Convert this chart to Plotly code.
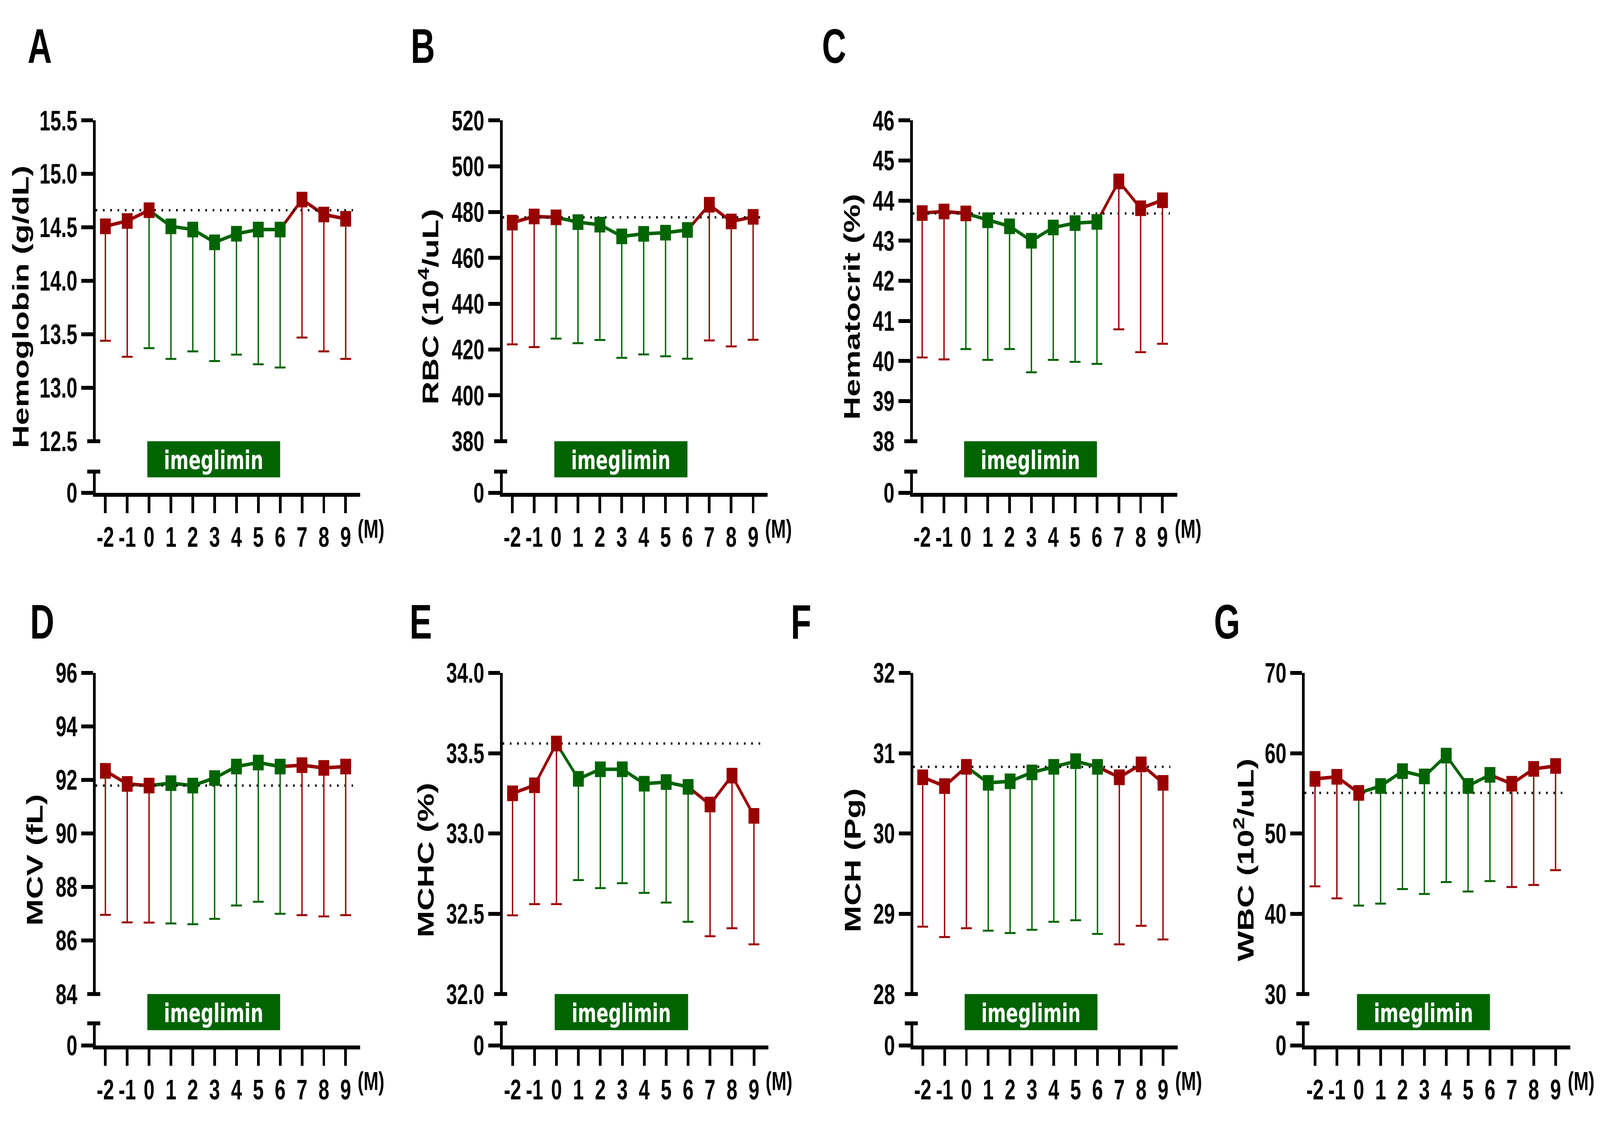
import plotly.graph_objects as go

W, H = 5906, 2878

# ---------------- data ----------------
months = [-2, -1, 0, 1, 2, 3, 4, 5, 6, 7, 8, 9]
month_labels = ["-2", "-1", "0", "1", "2", "3", "4", "5", "6", "7", "8", "9"]
treat_start, treat_end = 0, 6

hb_mean = [14.51, 14.56, 14.66, 14.51, 14.48, 14.36, 14.44, 14.48, 14.48, 14.76, 14.62, 14.58]
hb_sd = [1.07, 1.27, 1.29, 1.24, 1.14, 1.11, 1.13, 1.26, 1.29, 1.29, 1.28, 1.31]
hb_ticks = [12.5, 13.0, 13.5, 14.0, 14.5, 15.0, 15.5]
hb_ticklabels = ["12.5", "13.0", "13.5", "14.0", "14.5", "15.0", "15.5"]

rbc_mean = [475.4, 478.1, 477.7, 475.6, 474.5, 469.4, 470.5, 471.0, 472.2, 483.2, 475.9, 477.9]
rbc_sd = [53.1, 57.0, 52.9, 52.8, 50.3, 53.0, 52.6, 53.9, 56.2, 59.2, 54.5, 53.6]
rbc_ticks = [380, 400, 420, 440, 460, 480, 500, 520]
rbc_ticklabels = ["380", "400", "420", "440", "460", "480", "500", "520"]

hct_mean = [43.69, 43.73, 43.68, 43.51, 43.36, 43.00, 43.33, 43.44, 43.47, 44.48, 43.81, 44.01]
hct_sd = [3.60, 3.69, 3.38, 3.48, 3.06, 3.28, 3.30, 3.46, 3.54, 3.69, 3.59, 3.58]
hct_ticks = [38, 39, 40, 41, 42, 43, 44, 45, 46]
hct_ticklabels = ["38", "39", "40", "41", "42", "43", "44", "45", "46"]

mcv_mean = [92.34, 91.85, 91.79, 91.88, 91.79, 92.07, 92.50, 92.65, 92.50, 92.55, 92.45, 92.50]
mcv_sd = [5.38, 5.17, 5.12, 5.24, 5.18, 5.26, 5.19, 5.20, 5.50, 5.60, 5.55, 5.55]
mcv_ticks = [84, 86, 88, 90, 92, 94, 96]
mcv_ticklabels = ["84", "86", "88", "90", "92", "94", "96"]

mchc_mean = [33.25, 33.30, 33.56, 33.34, 33.40, 33.40, 33.31, 33.32, 33.29, 33.18, 33.36, 33.11]
mchc_sd = [0.76, 0.74, 1.00, 0.63, 0.74, 0.71, 0.68, 0.75, 0.84, 0.82, 0.95, 0.80]
mchc_ticks = [32.0, 32.5, 33.0, 33.5, 34.0]
mchc_ticklabels = ["32.0", "32.5", "33.0", "33.5", "34.0"]

mch_mean = [30.70, 30.59, 30.83, 30.63, 30.65, 30.76, 30.83, 30.90, 30.83, 30.70, 30.86, 30.63]
mch_sd = [1.86, 1.88, 2.01, 1.84, 1.89, 1.96, 1.93, 1.98, 2.08, 2.08, 2.01, 1.95]
mch_ticks = [28, 29, 30, 31, 32]
mch_ticklabels = ["28", "29", "30", "31", "32"]

wbc_mean = [56.80, 57.06, 55.05, 55.91, 57.76, 57.11, 59.70, 55.93, 57.30, 56.19, 58.04, 58.41]
wbc_sd = [13.38, 15.14, 14.03, 14.65, 14.69, 14.64, 15.75, 13.16, 13.23, 12.86, 14.45, 12.97]
wbc_ticks = [30, 40, 50, 60, 70]
wbc_ticklabels = ["30", "40", "50", "60", "70"]

panels = [
    ("A", "Hemoglobin (g/dL)", hb_mean, hb_sd, hb_ticks, hb_ticklabels),
    ("B", "RBC (10<sup>4</sup>/uL)", rbc_mean, rbc_sd, rbc_ticks, rbc_ticklabels),
    ("C", "Hematocrit (%)", hct_mean, hct_sd, hct_ticks, hct_ticklabels),
    ("D", "MCV (fL)", mcv_mean, mcv_sd, mcv_ticks, mcv_ticklabels),
    ("E", "MCHC (%)", mchc_mean, mchc_sd, mchc_ticks, mchc_ticklabels),
    ("F", "MCH (Pg)", mch_mean, mch_sd, mch_ticks, mch_ticklabels),
    ("G", "WBC (10<sup>2</sup>/uL)", wbc_mean, wbc_sd, wbc_ticks, wbc_ticklabels),
]

# ---------------- styles / layout geometry (pixels) ----------------
RED = "#990000"
GREEN = "#006400"
BLACK = "#000000"
FONT = "Liberation Sans, Arial, sans-serif"
BAR_FONT = "DejaVu Sans, sans-serif"
LW = 10
TICKLEN = 43
XTICKLEN = 42
TICK_SIZE = 72
TITLE_SIZE = 82
LETTER_SIZE = 124
M_SIZE = 66
BAR_H = 95

ROWS = {
    "top": dict(up_top=276, up_bot=1121, lo_top=1201, axis=1262, title_y=767, letter_y=80, m_y=1352),
    "bot": dict(up_top=1731, up_bot=2577, lo_top=2654, axis=2717, title_y=2224, letter_y=1596, m_y=2806),
}
# key: row, y-axis x, px of month -2, px of month 9, axis right end, title centre x, letter centre x, colour of month-0 error bar
GEOM = {
    "A": ("top", 348, 389, 1276, 1330, 77, 147, GREEN),
    "B": ("top", 1850, 1891, 2780, 2834, 1583, 1561, GREEN),
    "C": ("top", 3364, 3404, 4291, 4346, 3145, 3079, GREEN),
    "D": ("bot", 348, 389, 1276, 1330, 128, 156, RED),
    "E": ("bot", 1850, 1892, 2783, 2836, 1572, 1553, RED),
    "F": ("bot", 3366, 3406, 4293, 4348, 3148, 2957, RED),
    "G": ("bot", 4811, 4854, 5742, 5797, 4592, 4529, GREEN),
}


def fx(x):
    return x / W


def fy(y):
    return 1 - y / H


def yname(n):
    return "y" if n == 1 else f"y{n}"


def xname(n):
    return "x" if n == 1 else f"x{n}"


def lkey(letter, n):
    return f"{letter}axis" if n == 1 else f"{letter}axis{n}"


tickfont = dict(family=FONT, size=TICK_SIZE, color=BLACK, weight="bold")

fig = go.Figure()
layout = dict(
    width=W, height=H, autosize=False,
    margin=dict(l=0, r=0, t=0, b=0, pad=0),
    paper_bgcolor="white", plot_bgcolor="rgba(0,0,0,0)",
    showlegend=False,
)
shapes = []
annotations = []

for i, (key, title, mean, sd, ticks, ticklabels) in enumerate(panels):
    row_key, ax_left, m2, m9, ax_right, title_cx, letter_cx, zero_col = GEOM[key]
    row = ROWS[row_key]
    xn = i + 1
    yu, yb, yl = 3 * i + 1, 3 * i + 2, 3 * i + 3
    ppu = (m9 - m2) / (months[-1] - months[0])
    dom_l = ax_left + LW / 2
    dom_r = ax_right
    xr = [months[0] + (dom_l - m2) / ppu, months[0] + (dom_r - m2) / ppu]
    xa = xname(xn)

    layout[lkey("x", xn)] = dict(
        domain=[fx(dom_l), fx(dom_r)], range=xr, anchor=yname(yl),
        tickmode="array", tickvals=months, ticktext=month_labels,
        ticks="outside", ticklen=XTICKLEN, tickwidth=LW, tickcolor=BLACK,
        showline=True, linewidth=LW, linecolor=BLACK,
        showgrid=False, zeroline=False, tickfont=tickfont, fixedrange=True,
    )
    yr = [ticks[0], ticks[-1]]
    layout[lkey("y", yu)] = dict(
        domain=[fy(row["up_bot"]), fy(row["up_top"])], range=yr, anchor=xa,
        tickmode="array", tickvals=ticks[1:], ticktext=ticklabels[1:],
        ticks="outside", ticklen=TICKLEN, tickwidth=LW, tickcolor=BLACK,
        showline=True, linewidth=LW, linecolor=BLACK,
        showgrid=False, zeroline=False, tickfont=tickfont, fixedrange=True,
    )
    layout[lkey("y", yb)] = dict(
        overlaying=yname(yu), range=yr, anchor=xa,
        tickmode="array", tickvals=ticks[:1], ticktext=ticklabels[:1],
        ticks="", ticklabelstandoff=TICKLEN,
        showline=True, linewidth=LW, linecolor=BLACK,
        showgrid=False, zeroline=False, tickfont=tickfont, fixedrange=True,
    )
    layout[lkey("y", yl)] = dict(
        domain=[fy(row["axis"] - LW / 2), fy(row["lo_top"])], range=[0, 1], anchor=xa,
        tickmode="array", tickvals=[0], ticktext=["0"],
        ticks="outside", ticklen=TICKLEN, tickwidth=LW, tickcolor=BLACK,
        showline=True, linewidth=LW, linecolor=BLACK,
        showgrid=False, zeroline=False, tickfont=tickfont, fixedrange=True,
    )

    ya = yname(yu)

    # invisible anchor traces so that every axis gets its own subplot and is drawn
    for yy, val in ((yname(yb), ticks[0]), (yname(yl), 0)):
        fig.add_trace(go.Scatter(x=[months[0]], y=[val], mode="markers",
                                 marker=dict(size=1, opacity=0), xaxis=xa, yaxis=yy,
                                 hoverinfo="skip"))

    # connecting line segments
    pre = [k for k, m in enumerate(months) if m <= treat_start]
    trt = [k for k, m in enumerate(months) if treat_start <= m <= treat_end]
    post = [k for k, m in enumerate(months) if m >= treat_end]
    for idx, col in ((pre, RED), (trt, GREEN), (post, RED)):
        fig.add_trace(go.Scatter(
            x=[months[k] for k in idx], y=[mean[k] for k in idx], mode="lines",
            line=dict(color=col, width=9), xaxis=xa, yaxis=ya,
            hoverinfo="skip", cliponaxis=False,
        ))

    # baseline dotted reference line (value at month 0)
    base = mean[months.index(treat_start)]
    x_dot_end = months[-1] + 27 / ppu
    fig.add_trace(go.Scatter(
        x=[xr[0], x_dot_end], y=[base, base], mode="lines",
        line=dict(color=BLACK, width=6, dash="6px,21px"),
        xaxis=xa, yaxis=ya, hoverinfo="skip", cliponaxis=False,
    ))

    # error bars (mean - SD)
    def err_color(m):
        if treat_start < m <= treat_end:
            return GREEN
        if m == treat_start:
            return zero_col
        return RED

    for col in (RED, GREEN):
        idx = [k for k, m in enumerate(months) if err_color(m) == col]
        if not idx:
            continue
        fig.add_trace(go.Scatter(
            x=[months[k] for k in idx], y=[mean[k] for k in idx], mode="markers",
            marker=dict(size=2, opacity=0),
            error_y=dict(type="data", symmetric=False,
                         array=[0] * len(idx), arrayminus=[sd[k] for k in idx],
                         color=col, thickness=5, width=20),
            xaxis=xa, yaxis=ya, hoverinfo="skip", cliponaxis=False,
        ))

    # markers
    mcols = [GREEN if treat_start < m <= treat_end else RED for m in months]
    fig.add_trace(go.Scatter(
        x=months, y=mean, mode="markers",
        marker=dict(symbol="square", size=40, color=mcols, line=dict(width=0)),
        xaxis=xa, yaxis=ya, hoverinfo="skip", cliponaxis=False,
    ))

    # axis-break caps
    for yy in (row["up_bot"], row["lo_top"]):
        shapes.append(dict(type="line", xref="paper", yref="paper",
                           x0=fx(ax_left - 26), x1=fx(ax_left + 22), y0=fy(yy), y1=fy(yy),
                           line=dict(color=BLACK, width=LW)))

    # treatment bar
    shapes.append(dict(type="rect", xref=xa, yref="paper",
                       x0=treat_start - 0.08, x1=treat_end,
                       y0=fy(row["up_bot"] + BAR_H), y1=fy(row["up_bot"]),
                       fillcolor=GREEN, line=dict(width=0), layer="above"))
    annotations.append(dict(xref=xa, yref="paper",
                            x=(treat_start + treat_end) / 2 - 0.04,
                            y=fy(row["up_bot"] + BAR_H / 2 + 3),
                            text="imeglimin", showarrow=False, xanchor="center", yanchor="middle",
                            font=dict(family=BAR_FONT, size=66, color="white", weight="bold")))

    # y-axis title
    annotations.append(dict(xref="paper", yref="paper", x=fx(title_cx), y=fy(row["title_y"]),
                            text=title, textangle=-90, showarrow=False,
                            xanchor="center", yanchor="middle",
                            font=dict(family=FONT, size=TITLE_SIZE, color=BLACK, weight="bold")))
    # panel letter
    annotations.append(dict(xref="paper", yref="paper", x=fx(letter_cx), y=fy(row["letter_y"]),
                            text=key, showarrow=False, xanchor="center", yanchor="middle",
                            font=dict(family=FONT, size=LETTER_SIZE, color=BLACK, weight="bold")))
    # unit label (M)
    annotations.append(dict(xref="paper", yref="paper", x=fx(ax_right + 39), y=fy(row["m_y"]),
                            text="(M)", showarrow=False, xanchor="center", yanchor="middle",
                            font=dict(family=FONT, size=M_SIZE, color=BLACK, weight="bold")))

layout["shapes"] = shapes
layout["annotations"] = annotations
fig.update_layout(**layout)

# keep the whole figure inside the browser viewport, whatever its CSS size
FIT_JS = """
(function(){
  var gd = document.getElementById('{plot_id}');
  var wrap = gd.parentElement;
  var de = document.documentElement, b = document.body;
  de.style.margin = '0'; de.style.padding = '0'; de.style.overflow = 'hidden';
  b.style.margin = '0'; b.style.padding = '0'; b.style.overflow = 'hidden';
  function fit(){
    var iw = window.innerWidth, ih = window.innerHeight;
    var sx = iw / %d, sy = ih / %d;
    wrap.style.width = iw + 'px'; wrap.style.height = ih + 'px'; wrap.style.overflow = 'hidden';
    wrap.style.margin = '0'; wrap.style.padding = '0';
    gd.style.transformOrigin = '0 0';
    gd.style.transform = 'scale(' + sx + ',' + sy + ')';
  }
  fit();
  window.addEventListener('resize', fit);
})();
""" % (W, H)

fig.write_html("out.html", post_script=FIT_JS,
               config={"displayModeBar": False, "staticPlot": True})
